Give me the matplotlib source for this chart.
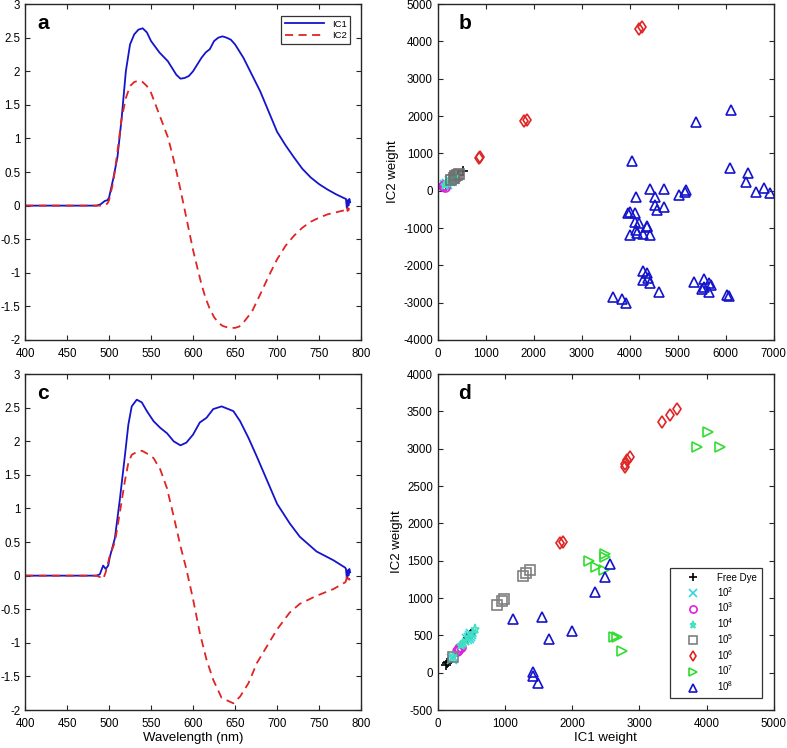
import numpy as np
import matplotlib
matplotlib.use('Agg')
import matplotlib.pyplot as plt
from matplotlib.ticker import FuncFormatter

plt.rcParams['font.family'] = ['Liberation Sans', 'DejaVu Sans']
plt.rcParams['mathtext.fontset'] = 'custom'
plt.rcParams['mathtext.rm'] = 'Liberation Sans'
plt.rcParams['mathtext.it'] = 'Liberation Sans'
plt.rcParams['axes.unicode_minus'] = False

# spectra, panel a
wl_a = [400, 485, 490, 495, 498, 500, 505, 510, 515, 520, 525, 530, 535, 540, 545, 550, 560, 570,
        575, 580, 585, 590, 595, 600, 605, 610, 615, 620, 625, 630, 635, 640, 645, 650, 655, 660,
        670, 680, 690, 700, 710, 720, 730, 740, 750, 760, 770, 780, 782, 783, 784, 785, 786, 787]
ic1_a = [0, 0, 0.02, 0.07, 0.08, 0.12, 0.4, 0.72, 1.3, 2.0, 2.4, 2.55, 2.62, 2.64, 2.58, 2.45, 2.28, 2.15,
         2.05, 1.95, 1.89, 1.9, 1.93, 2.0, 2.1, 2.2, 2.28, 2.33, 2.45, 2.5, 2.52, 2.5, 2.47, 2.4, 2.3, 2.2,
         1.95, 1.7, 1.4, 1.1, 0.9, 0.72, 0.55, 0.42, 0.32, 0.24, 0.17, 0.11, 0.1, -0.03, 0.08, 0.0, 0.1, 0.05]
ic2_a = [0, 0, 0, 0.01, 0.03, 0.08, 0.35, 0.8, 1.3, 1.6, 1.78, 1.84, 1.86, 1.84, 1.78, 1.68, 1.35, 1.02,
         0.78, 0.52, 0.24, -0.06, -0.36, -0.66, -0.92, -1.17, -1.38, -1.54, -1.66, -1.74, -1.79, -1.81, -1.82, -1.82, -1.8, -1.74,
         -1.58, -1.32, -1.05, -0.8, -0.6, -0.45, -0.33, -0.24, -0.18, -0.13, -0.1, -0.07, -0.05, -0.02, -0.08, -0.04, -0.06, -0.05]

# spectra, panel c
wl_c = [400, 485, 489, 493, 496, 499, 501, 507, 513, 519, 523, 527, 533, 539, 545, 553, 561, 569,
        577, 585, 592, 600, 608, 616, 624, 634, 648, 656, 666, 676, 688, 700, 715, 727, 747, 767,
        781, 782, 783, 784, 785, 786, 787]
ic1_c = [0, 0, 0.02, 0.15, 0.1, 0.15, 0.28, 0.56, 1.15, 1.8, 2.25, 2.52, 2.62, 2.58, 2.45, 2.3, 2.2, 2.12,
         2.0, 1.94, 1.98, 2.1, 2.28, 2.35, 2.48, 2.52, 2.45, 2.3, 2.05, 1.77, 1.42, 1.07, 0.78, 0.58, 0.36, 0.23,
         0.12, 0.1, -0.03, 0.08, 0.0, 0.1, 0.05]
ic2_c = [0, 0, -0.02, -0.05, 0.05, 0.2, 0.3, 0.5, 0.95, 1.42, 1.68, 1.8, 1.84, 1.86, 1.82, 1.75, 1.58, 1.3,
         0.88, 0.44, 0.1, -0.35, -0.85, -1.25, -1.55, -1.82, -1.9, -1.8, -1.6, -1.3, -1.05, -0.8, -0.55, -0.42, -0.3, -0.2,
         -0.1, -0.08, -0.02, -0.08, -0.04, -0.06, -0.05]

# IC weights, panel b
b_dye_x = [180, 300, 420, 527]
b_dye_y = [170, 290, 410, 527]
b_e2_x = [150, 200, 260, 330]
b_e2_y = [150, 190, 250, 320]
b_e3_x = [117, 135, 150]
b_e3_y = [125, 150, 110]
b_e4_x = [160, 200, 240, 280, 320, 350]
b_e4_y = [160, 200, 240, 290, 330, 360]
b_e5_x = [280, 330, 370, 410, 440]
b_e5_y = [300, 350, 400, 430, 455]
b_e6_x = [860, 880, 1800, 1850, 4200, 4260]
b_e6_y = [870, 900, 1860, 1900, 4320, 4380]
b_e8_x = [5370, 6100, 4050, 6080, 6460, 6420, 6790, 6930, 6620, 4430, 4720, 4130, 4520, 5020, 5180, 5150,
          4530, 4720, 4570, 3970, 4000, 4100, 4100, 4200, 4350, 4130, 4000, 4270, 4420, 4150, 4360,
          4280, 4350, 4270, 4380, 4430, 4600, 3650, 3840, 3930, 5340, 5540, 5540, 5510, 5650, 5700, 5650,
          6030, 6060]
b_e8_y = [1850, 2150, 800, 610, 465, 235, 65, -50, -35, 45, 45, -160, -160, -115, 10, -30,
          -375, -440, -510, -610, -570, -610, -830, -870, -950, -1050, -1190, -1160, -1200, -1140, -960,
          -2140, -2210, -2390, -2350, -2470, -2710, -2840, -2910, -3020, -2450, -2370, -2570, -2630, -2480, -2530, -2710,
          -2800, -2820]

# IC weights, panel d
d_dye_x = [120, 140, 160, 450, 480, 500]
d_dye_y = [105, 125, 140, 470, 500, 515]
d_e2_x = [210, 230, 430, 460, 480, 500]
d_e2_y = [190, 215, 455, 470, 490, 520]
d_e3_x = [280, 300, 320, 340]
d_e3_y = [290, 310, 330, 350]
d_e4_x = [230, 350, 380, 420, 470, 520, 560]
d_e4_y = [220, 370, 400, 430, 480, 530, 580]
d_e5_x = [220, 880, 950, 980, 1270, 1320, 1370]
d_e5_y = [210, 910, 960, 990, 1300, 1330, 1380]
d_e6_x = [1815, 1860, 2790, 2790, 2820, 2855, 3330, 3450, 3555]
d_e6_y = [1740, 1755, 2750, 2800, 2845, 2890, 3355, 3455, 3535]
d_e7_x = [2245, 2360, 2490, 2495, 2480, 2630, 2660, 2745, 3865, 4025, 4200]
d_e7_y = [1495, 1415, 1585, 1545, 1375, 480, 480, 290, 3020, 3220, 3030]
d_e8_x = [1120, 1545, 1650, 2000, 1420, 1420, 1485, 2335, 2495, 2570]
d_e8_y = [725, 740, 455, 565, 15, -45, -135, 1085, 1285, 1455]

legend_d = ['Free Dye', '$10^2$', '$10^3$', '$10^4$', '$10^5$', '$10^6$', '$10^7$', '$10^8$']

blue = '#1414cc'
red = '#e02424'
axcol = '#262626'

fig = plt.figure(figsize=(7.87, 7.48), dpi=100)
ax_a = fig.add_axes([0.0318, 0.5455, 0.427, 0.449])
ax_b = fig.add_axes([0.5562, 0.5455, 0.427, 0.449])
ax_c = fig.add_axes([0.0318, 0.0508, 0.427, 0.449])
ax_d = fig.add_axes([0.5562, 0.0508, 0.427, 0.449])


def style(ax):
    for s in ax.spines.values():
        s.set_color(axcol)
        s.set_linewidth(1.0)
    ax.tick_params(direction='in', top=True, right=True, length=3.5, width=0.8,
                   color=axcol, labelsize=8.3)
    ax.tick_params(axis='x', pad=6)
    ax.tick_params(axis='y', pad=3.5)
    ax.yaxis.set_major_formatter(FuncFormatter(lambda v, p: '%g' % v))
    ax.xaxis.set_major_formatter(FuncFormatter(lambda v, p: '%g' % v))


for ax, wl, c1, c2, letter in [(ax_a, wl_a, ic1_a, ic2_a, 'a'), (ax_c, wl_c, ic1_c, ic2_c, 'c')]:
    ax.plot(wl, c1, color=blue, lw=1.3, label='IC1')
    ax.plot(wl, c2, color=red, lw=1.3, dashes=(4.5, 3), label='IC2')
    ax.set_xlim(400, 800)
    ax.set_ylim(-2, 3)
    ax.set_xticks(np.arange(400, 801, 50))
    ax.set_yticks(np.arange(-2, 3.01, 0.5))
    style(ax)
    ax.text(0.054, 0.943, letter, transform=ax.transAxes, fontsize=15, fontweight='bold',
            ha='center', va='center')

leg = ax_a.legend(loc='upper right', bbox_to_anchor=(0.967, 0.964), borderaxespad=0,
                  fontsize=6.8, handlelength=4.2, frameon=True, fancybox=False,
                  edgecolor='black', borderpad=0.35, labelspacing=0.3)
leg.get_frame().set_linewidth(0.9)
ax_c.set_xlabel('Wavelength (nm)', fontsize=9.5, labelpad=1)

mk = dict(ls='none', mfc='none', ms=6.5, mew=1.2)
groups_b = [
    (b_dye_x, b_dye_y, '+', 'black'),
    (b_e2_x, b_e2_y, 'x', '#30d8e0'),
    (b_e3_x, b_e3_y, 'o', '#e020e0'),
    (b_e4_x, b_e4_y, '*', '#40e0c0'),
    (b_e5_x, b_e5_y, 's', '#707070'),
    (b_e6_x, b_e6_y, 'd', red),
    (b_e8_x, b_e8_y, '^', blue),
]
for x, y, m, c in groups_b:
    ax_b.plot(x, y, marker=m, mec=c, **mk)
ax_b.set_xlim(0, 7000)
ax_b.set_ylim(-4000, 5000)
ax_b.set_xticks(np.arange(0, 7001, 1000))
ax_b.set_yticks(np.arange(-4000, 5001, 1000))
style(ax_b)
ax_b.set_ylabel('IC2 weight', fontsize=9.5, labelpad=3)
ax_b.text(0.08, 0.943, 'b', transform=ax_b.transAxes, fontsize=15, fontweight='bold',
          ha='center', va='center')

groups_d = [
    (d_dye_x, d_dye_y, '+', 'black'),
    (d_e2_x, d_e2_y, 'x', '#30d8e0'),
    (d_e3_x, d_e3_y, 'o', '#e020e0'),
    (d_e4_x, d_e4_y, '*', '#40e0c0'),
    (d_e5_x, d_e5_y, 's', '#808080'),
    (d_e6_x, d_e6_y, 'd', red),
    (d_e7_x, d_e7_y, '>', '#30dd30'),
    (d_e8_x, d_e8_y, '^', blue),
]
for (x, y, m, c), lab in zip(groups_d, legend_d):
    ax_d.plot(x, y, marker=m, mec=c, label=lab, **mk)
ax_d.set_xlim(0, 5000)
ax_d.set_ylim(-500, 4000)
ax_d.set_xticks(np.arange(0, 5001, 1000))
ax_d.set_yticks(np.arange(-500, 4001, 500))
style(ax_d)
ax_d.set_ylabel('IC2 weight', fontsize=9.5, labelpad=3)
ax_d.set_xlabel('IC1 weight', fontsize=9.5, labelpad=1)
ax_d.text(0.08, 0.943, 'd', transform=ax_d.transAxes, fontsize=15, fontweight='bold',
          ha='center', va='center')
leg = ax_d.legend(loc='lower right', bbox_to_anchor=(0.964, 0.036), borderaxespad=0,
                  fontsize=7, handlelength=3.6, frameon=True, fancybox=False,
                  edgecolor='black', borderpad=0.5, labelspacing=0.2,
                  handletextpad=0.7, markerscale=0.8)
leg.get_frame().set_linewidth(0.9)

fig.savefig('out.png', dpi=100)
